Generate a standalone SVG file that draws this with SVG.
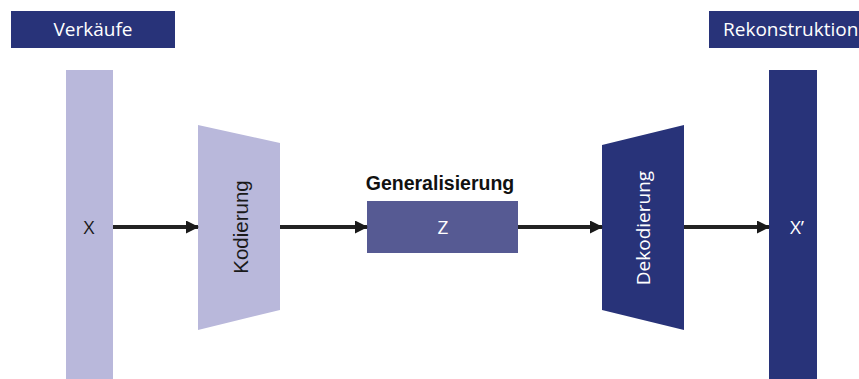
<svg xmlns="http://www.w3.org/2000/svg" width="859" height="379" viewBox="0 0 859 379">
  <style>
    .light { fill: #b9b8db; }
    .dark { fill: #283379; }
    .mid { fill: #565a93; }
    .lbl { font-family: "Open Sans", "Noto Sans", sans-serif; font-size: 19px; }
    .arial { font-family: "Liberation Sans", Arial, sans-serif; font-size: 20.5px; }
    .white { fill: #ffffff; }
    .black { fill: #1a1a1a; }
    .edge { stroke: #222222; stroke-width: 4; fill: none; marker-end: url(#arrow); }
  </style>
  <defs>
    <marker id="arrow" markerWidth="13" markerHeight="13" refX="12" refY="6.5" orient="auto" markerUnits="userSpaceOnUse">
      <path d="M0,0 L13,6.5 L0,13 Z" fill="#1a1a1a"/>
    </marker>
  </defs>
  <rect width="859" height="379" fill="#ffffff"/>

  <g id="title-input">
    <rect class="dark" x="11" y="11" width="164" height="37"/>
    <text class="lbl white" x="93" y="36" text-anchor="middle">Verkäufe</text>
  </g>
  <g id="title-output">
    <rect class="dark" x="709" y="11" width="150" height="37"/>
    <text class="lbl white" x="723" y="36">Rekonstruktion</text>
  </g>

  <g id="input-x">
    <rect class="light" x="66" y="70" width="47" height="309"/>
    <text class="lbl black" x="89" y="234" text-anchor="middle">X</text>
  </g>

  <g id="encoder">
    <polygon class="light" points="198,125 280,143 280,310 198,330"/>
    <text class="arial black" transform="translate(248,227) rotate(-90)" text-anchor="middle">Kodierung</text>
  </g>

  <g id="latent-z">
    <text x="440" y="190" text-anchor="middle" font-family="Liberation Sans, Arial, sans-serif" font-size="19.5" font-weight="bold" fill="#111111">Generalisierung</text>
    <rect class="mid" x="367" y="201" width="151" height="52"/>
    <text class="lbl white" x="443" y="234" text-anchor="middle">Z</text>
  </g>

  <g id="decoder">
    <polygon class="dark" points="602,145 684,125 684,330 602,310"/>
    <text class="lbl white" transform="translate(650,228) rotate(-90)" text-anchor="middle">Dekodierung</text>
  </g>

  <g id="output-x">
    <rect class="dark" x="769" y="70" width="48" height="309"/>
    <text class="lbl white" x="797" y="234" text-anchor="middle">X’</text>
  </g>

  <g id="connectors">
    <line class="edge" x1="113" y1="227" x2="198" y2="227"/>
    <line class="edge" x1="280" y1="227" x2="367" y2="227"/>
    <line class="edge" x1="518" y1="227" x2="602" y2="227"/>
    <line class="edge" x1="684" y1="227" x2="769" y2="227"/>
  </g>
</svg>
